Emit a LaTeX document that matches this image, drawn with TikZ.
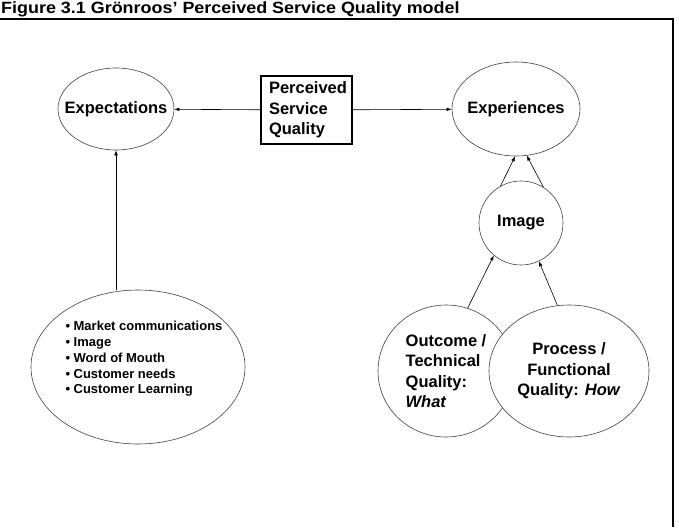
\documentclass[tikz,border=0pt]{standalone}
\usepackage{fontspec}
\setmainfont{Liberation Sans}
\usepackage{graphicx}
\usetikzlibrary{shapes.geometric, arrows.meta}

\begin{document}
\begin{tikzpicture}[x=1pt, y=-1pt,
 big/.style={font=\bfseries\fontsize{16.5}{20.5}\selectfont},
 oval node/.style={ellipse,draw=black!75,line width=.6pt,inner sep=-100pt,big,align=center},
 box node/.style={rectangle,draw,line width=1.4pt,inner xsep=8pt,inner ysep=0pt,big,align=left},
 list text/.style={align=left,inner sep=0pt,font=\bfseries\fontsize{13}{15.7}\selectfont},
 link/.style={-{Latex[length=5pt,width=3.6pt]},line width=.6pt}]

  \useasboundingbox (0,0) rectangle (679,527);

  % title and frame
  \node[anchor=base west,inner sep=0pt,font=\bfseries\fontsize{16.3}{18}\selectfont] (title) at (1,14)
    {\scalebox{1.1}[1]{Figure 3.1 Grönroos’ Perceived Service Quality model}};
  \draw[line width=2pt] (0,19) -- (673,19) -- (673,527);

  \node[oval node, minimum width=116pt, minimum height=82pt] (exp) at (116,109) {Expectations};
  \node[box node, text width=75pt, minimum height=68pt] (psq) at (306.5,110) {Perceived\\Service\\Quality};
  \node[oval node, minimum width=128pt, minimum height=94pt] (expr) at (516,109) {Experiences};
  \node[oval node, circle, inner sep=0pt, minimum size=84pt] (img) at (521,223) {Image};
  \node[oval node, minimum width=214pt, minimum height=154pt] (inf) at (138,367) {};
  \node[list text] (inftxt) at (144,359)
    {• Market communications\\• Image\\• Word of Mouth\\• Customer needs\\• Customer Learning};
  \node[oval node, minimum width=136pt, minimum height=132pt, align=left] (out) at (446,371)
    {Outcome /\\Technical\\Quality:\\\textit{What}};
  \node[oval node, fill=white, minimum width=160pt, minimum height=132pt] (proc) at (569,371)
    {Process /\\Functional\\Quality: \textit{How}};

  \foreach \s/\t in {psq/exp, psq/expr, img.119/expr.269, img.58/expr.283, out.71/img.230, proc.100/img.295} {
   \draw[link] (\s) -- (\t);}
  \draw[link] (inf.north -| exp.south) -- (exp.south);
\end{tikzpicture}
\end{document}
